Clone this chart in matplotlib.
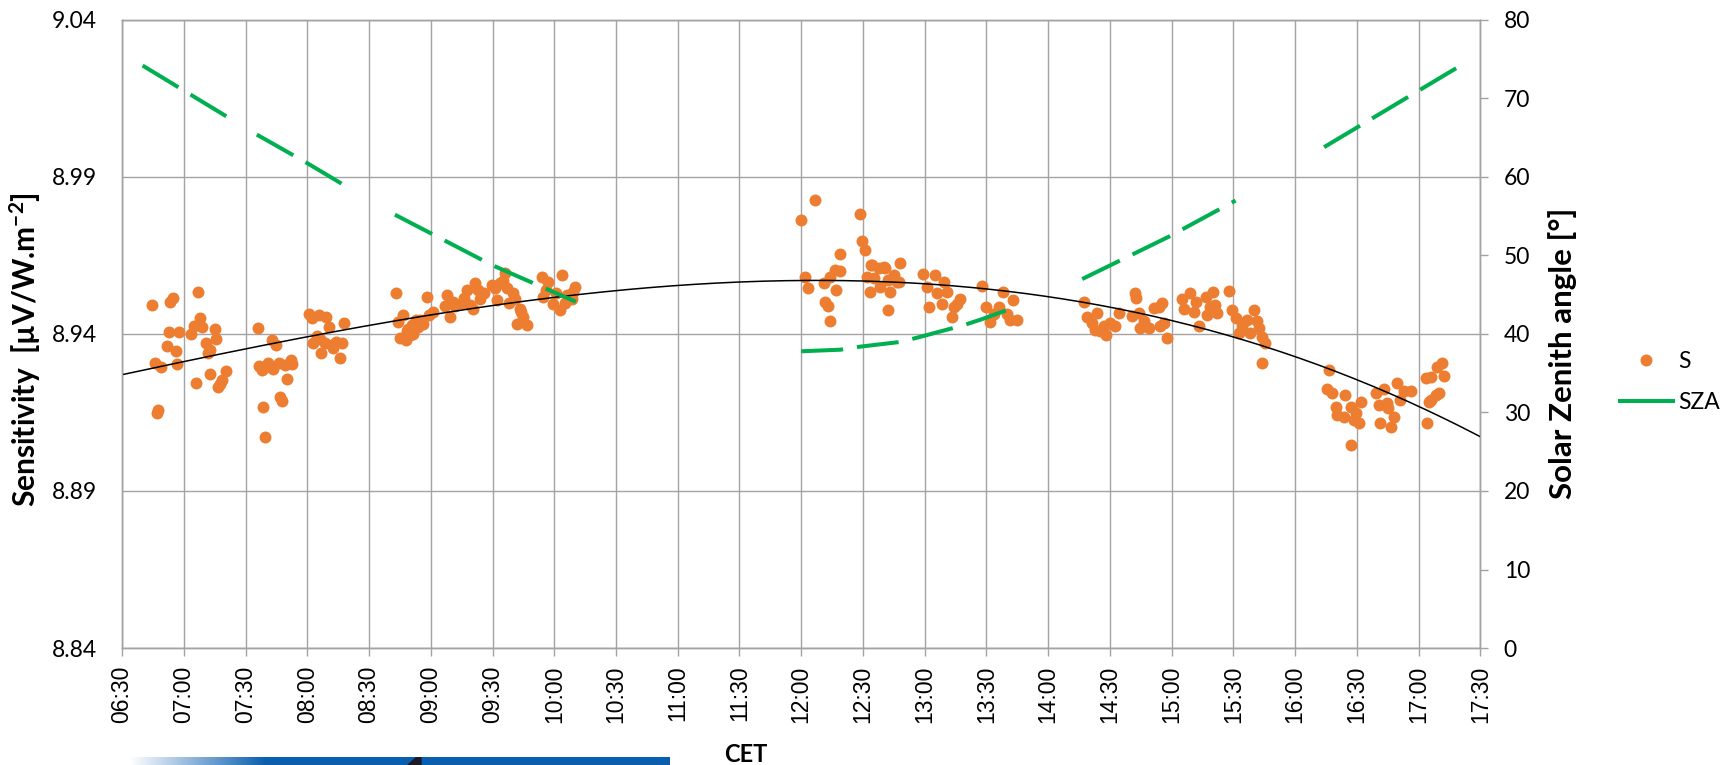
import numpy as np
import matplotlib.pyplot as plt
from matplotlib.lines import Line2D
from matplotlib.patches import Polygon

plt.rcParams['font.family'] = ['Lato', 'DejaVu Sans']
plt.rcParams['mathtext.fontset'] = 'custom'
plt.rcParams['mathtext.rm'] = 'Lato:bold'
plt.rcParams['mathtext.bf'] = 'Lato:bold'
plt.rcParams['mathtext.it'] = 'Lato:bold'

# sensitivity S: time of measurement (minutes since midnight, CET)
s_time = [
    # 06:40 - 07:20
    404.8, 413.5, 414.8, 426.7, 412.7, 417.7, 423.7, 424.9, 427.8, 429.1,
    435.1, 435.9, 431.0, 432.6, 431.8, 411.9, 416.1, 405.9, 408.8, 416.9,
    425.8, 432.6, 436.7, 438.8, 440.7, 407.0, 407.7, 437.8,
    # 07:35 - 07:55
    456.0, 462.9, 465.0, 456.6, 457.8, 461.0, 463.4, 466.2, 469.1, 471.9,
    472.8, 470.4, 466.7, 467.8, 458.7, 459.7, 460.2,
    # 08:00 - 08:20
    480.8, 482.4, 485.8, 489.0, 490.7, 497.8, 484.5, 486.1, 482.9, 488.6,
    491.8, 494.2, 496.7, 486.9, 495.9, 492.6,
    # 08:40 - 10:10
    522.9, 526.6, 524.2, 525.0, 527.9, 529.9, 529.1, 532.8, 533.9, 536.4,
    538.0, 539.3, 531.5, 547.7, 546.9, 549.3, 550.9, 555.0, 557.4, 559.1,
    560.4, 561.5, 563.1, 563.9, 569.6, 572.0, 573.6, 576.1, 576.9, 580.1,
    581.7, 583.4, 585.0, 586.6, 580.9, 593.9, 597.1, 603.6, 594.7, 599.6,
    602.8, 606.1, 610.1, 608.5, 528.5, 531.0, 535.0, 541.0, 552.0, 556.0,
    566.0, 571.0, 575.0, 578.0, 584.0, 596.0, 601.0, 605.0, 609.0,
    # 12:00 - 13:45
    719.8, 726.8, 748.7, 722.0, 723.3, 730.9, 734.1, 736.5, 738.6, 739.0,
    737.0, 731.7, 733.0, 733.8, 749.5, 751.1, 753.9, 751.9, 753.2, 755.2,
    757.6, 760.9, 758.4, 762.0, 764.9, 766.5, 763.3, 768.1, 762.0, 779.2,
    781.1, 784.8, 789.2, 786.0, 790.8, 788.4, 782.0, 793.3, 794.1, 797.3,
    795.7, 807.9, 810.0, 818.1, 816.0, 823.0, 811.9, 820.0, 824.9, 821.6,
    813.5, 754.4, 760.0, 767.3,
    # 14:15 - 15:45
    857.2, 858.8, 863.7, 861.3, 862.9, 866.9, 868.2, 870.2, 872.6, 874.2,
    865.3, 882.3, 882.8, 880.7, 884.0, 886.4, 884.8, 888.8, 891.2, 895.3,
    893.7, 894.5, 897.7, 896.1, 905.0, 905.8, 909.1, 913.1, 910.7, 912.0,
    916.4, 917.2, 920.1, 921.2, 922.0, 918.8, 928.0, 929.3, 931.0, 932.6,
    934.2, 936.6, 937.9, 939.9, 941.5, 942.3, 943.9, 945.5, 943.9,
    # 16:15 - 17:15
    976.3, 975.2, 978.0, 979.6, 980.4, 983.6, 984.4, 986.9, 989.3, 990.9,
    992.0, 988.5, 986.9, 999.0, 1000.6, 1003.1, 1004.7, 1005.0, 1001.1, 1006.3,
    1007.9, 1009.2, 1010.8, 1012.8, 1016.0, 1023.3, 1025.8, 1024.1, 1025.8, 1028.2,
    1029.8, 1029.0, 1031.4, 1032.2, 1025.0,
]
s_val = [
    8.9492, 8.9503, 8.9514, 8.9533, 8.9405, 8.9405, 8.9399, 8.9425, 8.9450, 8.9423,
    8.9415, 8.9383, 8.9372, 8.9349, 8.9340, 8.9361, 8.9346, 8.9308, 8.9296, 8.9306,
    8.9245, 8.9274, 8.9230, 8.9253, 8.9283, 8.9149, 8.9158, 8.9240,
    8.9418, 8.9381, 8.9365, 8.9298, 8.9285, 8.9308, 8.9290, 8.9308, 8.9301, 8.9317,
    8.9303, 8.9256, 8.9198, 8.9186, 8.9169, 8.9071, 8.9296,
    8.9463, 8.9450, 8.9460, 8.9453, 8.9423, 8.9434, 8.9393, 8.9383, 8.9370, 8.9370,
    8.9365, 8.9375, 8.9370, 8.9340, 8.9325, 8.9354,
    8.9531, 8.9460, 8.9439, 8.9386, 8.9380, 8.9396, 8.9417, 8.9446, 8.9423, 8.9433,
    8.9518, 8.9460, 8.9401, 8.9524, 8.9489, 8.9455, 8.9502, 8.9499, 8.9540, 8.9492,
    8.9481, 8.9561, 8.9540, 8.9513, 8.9555, 8.9508, 8.9561, 8.9593, 8.9545, 8.9529,
    8.9433, 8.9481, 8.9455, 8.9428, 8.9513, 8.9582, 8.9566, 8.9587, 8.9518, 8.9497,
    8.9476, 8.9524, 8.9550, 8.9513, 8.9410, 8.9430, 8.9445, 8.9470, 8.9490, 8.9515,
    8.9530, 8.9545, 8.9570, 8.9500, 8.9470, 8.9540, 8.9530, 8.9500, 8.9535,
    8.9763, 8.9828, 8.9781, 8.9582, 8.9545, 8.9561, 8.9582, 8.9603, 8.9601, 8.9656,
    8.9540, 8.9502, 8.9489, 8.9442, 8.9696, 8.9669, 8.9619, 8.9582, 8.9534, 8.9577,
    8.9609, 8.9609, 8.9550, 8.9571, 8.9587, 8.9566, 8.9534, 8.9625, 8.9478, 8.9591,
    8.9550, 8.9587, 8.9566, 8.9529, 8.9534, 8.9497, 8.9487, 8.9455, 8.9487, 8.9513,
    8.9495, 8.9552, 8.9487, 8.9534, 8.9487, 8.9508, 8.9439, 8.9465, 8.9444, 8.9444,
    8.9465, 8.9620, 8.9614, 8.9567,
    8.9503, 8.9455, 8.9466, 8.9434, 8.9413, 8.9424, 8.9397, 8.9434, 8.9424, 8.9468,
    8.9408, 8.9530, 8.9514, 8.9458, 8.9466, 8.9440, 8.9418, 8.9418, 8.9482, 8.9500,
    8.9487, 8.9424, 8.9386, 8.9434, 8.9511, 8.9479, 8.9530, 8.9426, 8.9471, 8.9503,
    8.9519, 8.9461, 8.9535, 8.9493, 8.9466, 8.9487, 8.9538, 8.9477, 8.9450, 8.9402,
    8.9424, 8.9445, 8.9402, 8.9477, 8.9440, 8.9418, 8.9392, 8.9371, 8.9309,
    8.9286, 8.9224, 8.9211, 8.9169, 8.9142, 8.9137, 8.9206, 8.9169, 8.9148, 8.9116,
    8.9182, 8.9126, 8.9047, 8.9211, 8.9174, 8.9224, 8.9179, 8.9163, 8.9116, 8.9105,
    8.9137, 8.9243, 8.9190, 8.9217, 8.9217, 8.9259, 8.9264, 8.9116, 8.9190, 8.9206,
    8.9211, 8.9296, 8.9307, 8.9267, 8.9185,
]

# solar zenith angle, nan where the record is interrupted
sza_time = [400.0, 441.5, np.nan,
            455.5, 480.4, 498.3, np.nan,
            522.6, 569.6, 610.5, np.nan,
            720.0, 739.0, 749.0, 768.5, 778.7, 798.6, 807.9, 825.7, np.nan,
            856.5, 898.6, 931.0, np.nan,
            974.0, 1041.0]
sza_val = [74.2, 67.6, np.nan,
           65.4, 61.7, 58.9, np.nan,
           55.2, 48.8, 44.1, np.nan,
           37.8, 38.0, 38.4, 39.0, 39.7, 41.1, 41.9, 43.6, np.nan,
           47.0, 52.4, 57.0, np.nan,
           63.8, 74.3]

time_ticks = ['06:30', '07:00', '07:30', '08:00', '08:30', '09:00', '09:30',
              '10:00', '10:30', '11:00', '11:30', '12:00', '12:30', '13:00',
              '13:30', '14:00', '14:30', '15:00', '15:30', '16:00', '16:30',
              '17:00', '17:30']
s_ticks = [8.84, 8.89, 8.94, 8.99, 9.04]
sza_ticks = [0, 10, 20, 30, 40, 50, 60, 70, 80]

ORANGE = '#ED7D31'
GREEN = '#00B050'
GRID = '#a3a3a3'


def to_hours(hhmm):
    h, m = hhmm.split(':')
    return int(h) + int(m) / 60


tick_pos = [to_hours(t) for t in time_ticks]
x_s = np.array(s_time) / 60
x_sza = np.array(sza_time) / 60
y_sza = np.array(sza_val)

fig = plt.figure(figsize=(17.32, 7.65), dpi=100)
ax = fig.add_axes([0.07044, 0.15294, 0.78435, 0.82092])

ax.set_xlim(tick_pos[0], tick_pos[-1])
ax.set_ylim(s_ticks[0], s_ticks[-1])
ax.set_xticks(tick_pos)
ax.set_xticklabels(time_ticks, rotation=90, family='Liberation Sans', fontsize=16.5)
ax.set_yticks(s_ticks)
ax.set_yticklabels([f'{v:.2f}' for v in s_ticks], fontsize=16.5)
ax.grid(True, color=GRID, lw=1.0)
ax.set_axisbelow(True)
for sp in ax.spines.values():
    sp.set_color(GRID)
    sp.set_linewidth(1.0)
ax.tick_params(axis='x', direction='out', length=5.8, width=1.0, color=GRID, pad=7)
ax.tick_params(axis='y', length=0, pad=18)

ax.scatter(x_s, s_val, s=74, color=ORANGE, linewidths=0, zorder=3)

# third order polynomial trend of S
coef = np.polyfit(x_s, s_val, 3)
xx = np.linspace(tick_pos[0], tick_pos[-1], 300)
ax.plot(xx, np.polyval(coef, xx), color='black', lw=1.1, zorder=4)

ax.set_ylabel('Sensitivity  [µV/W.m$^{-2}$]', fontsize=21.5, fontweight='bold')
ax.yaxis.set_label_coords(-0.058, 0.475)

ax2 = ax.twinx()
ax2.set_ylim(sza_ticks[0], sza_ticks[-1])
ax2.set_yticks(sza_ticks)
ax2.set_yticklabels([str(v) for v in sza_ticks], fontsize=16.5)
ax2.tick_params(axis='y', direction='out', length=5.8, width=1.0, color=GRID, pad=11)
for sp in ax2.spines.values():
    sp.set_color(GRID)
    sp.set_linewidth(1.0)

# each uninterrupted stretch is drawn on its own so the dashes restart
breaks = np.flatnonzero(np.isnan(x_sza))
for seg_t, seg_v in zip(np.split(x_sza, breaks), np.split(y_sza, breaks)):
    keep = ~np.isnan(seg_t)
    ax2.plot(seg_t[keep], seg_v[keep], color=GREEN, lw=2.9,
             linestyle=(0, (10.4, 3.5)), dash_capstyle='butt')

ax2.set_ylabel('Solar Zenith angle [°]', fontsize=22.5, fontweight='bold', rotation=90)
ax2.yaxis.set_label_coords(1.050, 0.47)

fig.text(746 / 1732, 3 / 765, 'CET', fontsize=17, fontweight='bold',
         ha='center', va='baseline')

handles = [Line2D([], [], ls='none', marker='o', ms=8.6, mfc=ORANGE, mec='none'),
           Line2D([], [], color=GREEN, lw=2.9)]
fig.legend(handles, ['S', 'SZA'], loc='center left',
           bbox_to_anchor=(1620 / 1732, 1 - 382 / 765), frameon=False,
           fontsize=16.5, handlelength=2.3, handletextpad=0.25,
           labelspacing=0.9, borderpad=0, borderaxespad=0)

# strip of the page banner along the bottom edge
band = fig.add_axes([130 / 1732, 0, 540 / 1732, 8 / 765])
grad = np.ones((1, 540, 3))
blue = np.array([0.04, 0.37, 0.69])
ramp = np.clip(np.arange(540) / 135, 0, 1)
grad[0] = (1 - ramp)[:, None] * np.ones(3) + ramp[:, None] * blue
band.imshow(grad, aspect='auto', extent=(0, 540, 0, 8))
band.add_patch(Polygon([(278, 0), (287, 8), (291, 8), (291, 0)], closed=True,
                       color='#1a1a2a'))
band.set_xlim(0, 540)
band.set_ylim(0, 8)
band.axis('off')

fig.savefig('out.png', dpi=100)
